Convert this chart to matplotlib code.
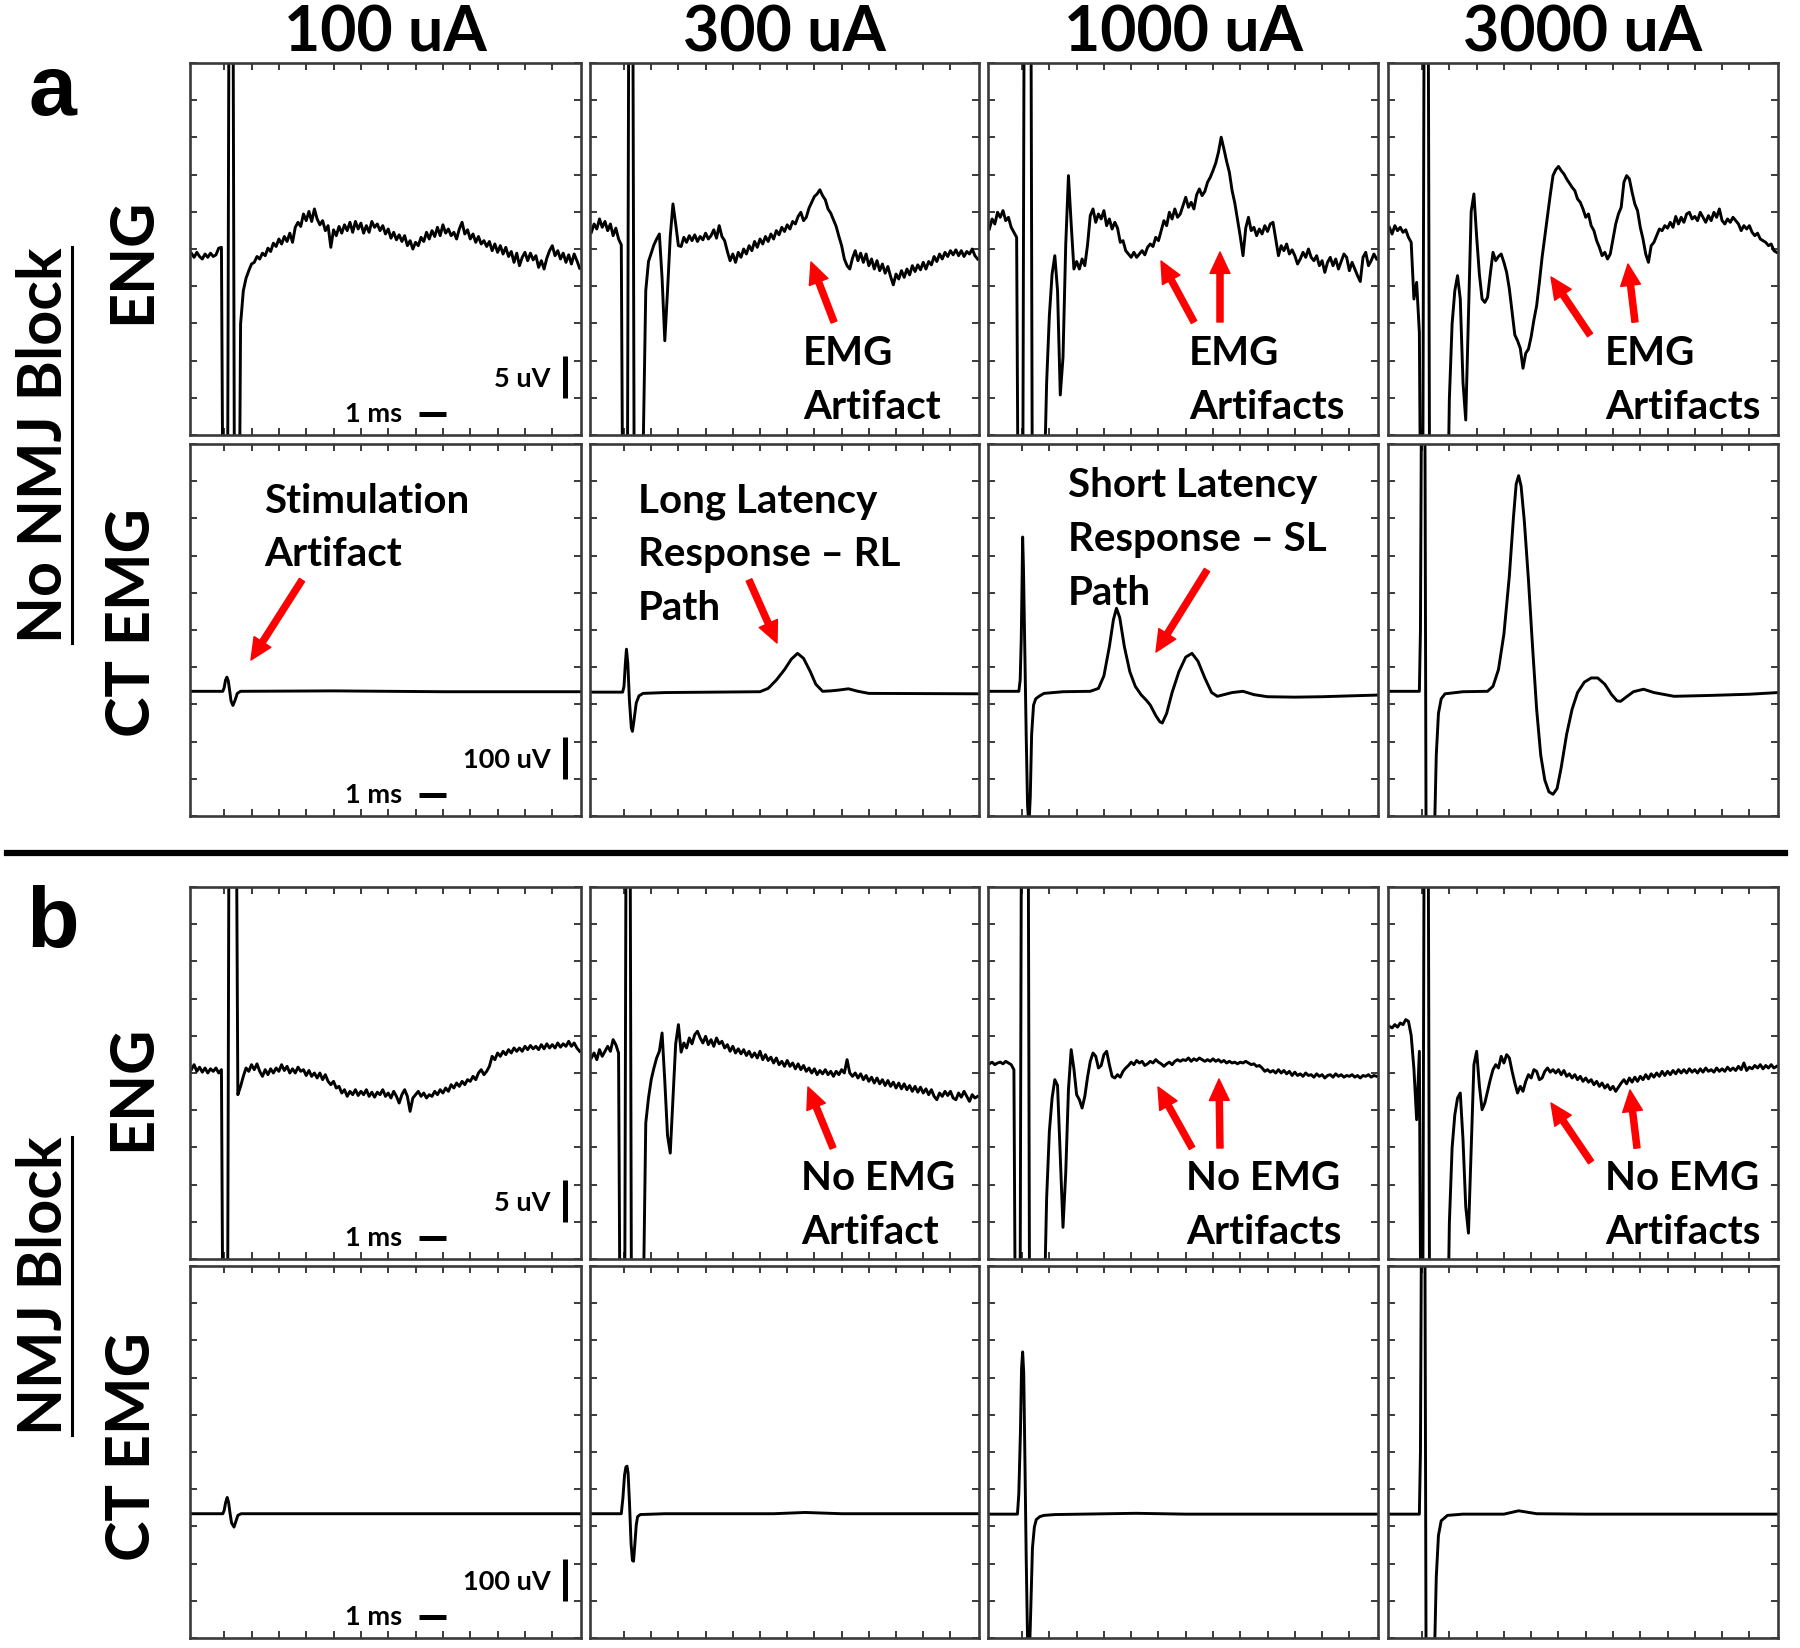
import numpy as np
import matplotlib
matplotlib.use('Agg')
import matplotlib.pyplot as plt
from matplotlib.patches import FancyArrowPatch
from matplotlib.lines import Line2D

plt.rcParams['font.family'] = ['Lato', 'DejaVu Sans']

# ---------------- data ----------------
currents = ['100 uA', '300 uA', '1000 uA', '3000 uA']
conditions = ['No NMJ Block', 'NMJ Block']

# ENG traces (uV), sampled every 0.1 ms starting at t = -1.2 ms
ENG_T0, ENG_DT = -1.2, 0.1

a_eng_100 = [
    -0.5, -1.0, -0.4, -0.9, -1.2, -0.6, -1.0, -0.5, -0.9, -0.7,
    0.1, 0.2, -60, -60, 60, 60, -60, -60, -9, -5.0,
    -3.5, -2.6, -1.8, -1.6, -0.9, -1.2, -0.5, -0.8, 0.1, -0.3,
    0.7, 0.3, 1.2, 0.6, 1.5, 0.9, 1.9, 0.8, 2.6, 3.2,
    2.7, 4.2, 3.4, 4.5, 3.3, 4.8, 3.6, 2.9, 3.4, 2.2,
    2.8, 0.2, 2.3, 1.6, 2.7, 1.9, 2.9, 2.2, 3.2, 2.0,
    3.3, 2.4, 3.1, 1.9, 2.8, 2.0, 3.3, 2.6, 3.0, 2.2,
    2.8, 1.8, 2.4, 1.3, 2.0, 1.1, 1.7, 0.9, 1.6, 0.4,
    1.0, 0.0, 0.8, 0.4, 1.4, 0.9, 2.0, 1.2, 2.2, 1.5,
    2.6, 1.6, 2.9, 1.9, 2.4, 1.6, 2.0, 1.2, 2.4, 3.2,
    1.8, 2.3, 1.2, 1.8, 0.8, 1.5, 0.6, 1.0, 0.3, 0.9,
    -0.2, 0.6, -0.4, 0.4, -0.6, 0.2, -0.9, -0.3, -1.6, -0.5,
    -2.0, -1.0, -0.4, -1.4, -0.5, -1.3, -0.8, -2.2, -1.4, -2.4,
    -1.1, -0.2, 0.4, -0.8, -0.2, -1.2, -0.5, -1.6, -0.7, -1.8,
    -0.6, -1.4, -2.3]

a_eng_300 = [
    2.0, 3.0, 2.4, 3.6, 2.6, 3.3, 2.2, 3.0, 1.6, 2.5,
    1.2, 0.5, -60, -60, 60, 60, -60, -60, -60, -25,
    -5.0, -1.5, -0.5, 0.5, 1.2, 1.8, -3.5, -11.0, -5.0, 1.5,
    5.4, 3.0, 0.4, 0.3, 1.4, 0.8, 1.6, 1.0, 1.7, 0.9,
    1.5, 1.1, 1.9, 1.2, 1.6, 2.3, 1.3, 2.8, 1.5, 1.0,
    -0.3, -1.4, -0.6, -1.6, -0.4, -1.0, 0.0, -0.6, 0.4, -0.2,
    0.9, 0.2, 1.2, 0.6, 1.5, 0.9, 1.8, 1.2, 2.2, 1.7,
    2.6, 2.1, 2.9, 2.4, 3.3, 3.0, 3.9, 4.4, 3.4, 3.8,
    4.9, 5.6, 6.3, 6.6, 7.1, 6.4, 5.9, 4.8, 4.3, 3.5,
    2.7, 1.5, 0.4, -1.2, -2.0, -2.4, -1.1, -0.2, -1.4, -0.5,
    -1.6, -0.6, -2.0, -1.2, -2.4, -1.4, -2.6, -1.8, -2.9, -2.1,
    -3.3, -4.3, -3.0, -3.6, -2.6, -3.4, -2.4, -3.1, -2.0, -2.7,
    -1.9, -2.5, -1.6, -2.4, -1.5, -1.9, -0.9, -1.5, -0.6, -1.2,
    -0.4, -0.9, -0.2, -0.7, -0.1, -0.8, -0.2, -0.9, -0.3, -0.6,
    0.0, -0.8, -1.2]

a_eng_1000 = [
    2.4, 3.6, 3.0, 4.4, 3.8, 4.6, 3.4, 3.8, 2.6, 2.0,
    1.4, -60, -60, 60, 60, 60, -60, -60, -60, -60,
    -30, -16, -8, -3, -0.8, -5, -17.5, -13, 0.5, 8.8,
    3.0, -2.4, -1.5, -2.4, -1.2, -2.0, 0.5, 4.0, 4.8, 3.2,
    4.2, 3.6, 4.6, 2.8, 3.6, 2.4, 3.2, 2.5, 0.8, 1.0,
    -0.2, -0.6, -1.0, -0.4, -1.0, -0.6, -0.2, -0.7, 0.2, 0.6,
    0.3, 1.4, 1.0, 2.2, 3.4, 2.8, 4.4, 3.6, 4.8, 3.8,
    4.2, 5.2, 6.2, 5.0, 5.6, 4.8, 6.5, 7.2, 6.4, 6.9,
    8.0, 8.6, 9.4, 10.3, 11.6, 13.4, 12.0, 10.5, 9.2, 7.0,
    5.5, 3.5, 1.5, -0.8, 2.5, 3.8, 2.2, 2.6, 1.6, 2.4,
    1.8, 2.8, 2.1, 3.0, 3.2, 1.2, -0.8, 0.4, -0.2, 0.6,
    -0.6, -0.1, -0.8, -1.8, -1.2, -0.4, -1.0, 0.0, -1.0, -1.4,
    -0.8, -2.0, -1.4, -2.8, -1.6, -1.0, -2.0, -1.2, -2.4, -1.5,
    -0.6, -1.0, -2.6, -1.6, -2.4, -3.2, -3.9, -1.0, -0.4, -2.0,
    -1.4, -0.6, -1.2]

a_eng_3000 = [
    2.6, 1.8, 2.8, 2.2, 2.6, 2.0, 2.3, 1.4, 0.8, -6,
    -4, -10, -60, 60, 60, -60, -60, -60, -60, -60,
    -60, -40, -18, -9, -5, -3.2, -6, -16, -20.5, -8,
    4.5, 6.6, 1.5, -3.0, -6.0, -6.4, -5.8, -3.0, -0.4, -1.4,
    -0.9, -0.6, -1.6, -2.8, -4.8, -7.5, -10.3, -11.0, -11.9, -14.3,
    -12.5, -12.0, -10.5, -8.5, -6.8, -4.0, -1.0, 1.5, 4.0, 6.5,
    8.8, 9.5, 9.9, 9.4, 9.0, 8.4, 7.9, 7.4, 7.0, 6.0,
    5.6, 4.8, 3.8, 4.2, 2.8, 2.2, 1.0, 0.2, -0.8, -0.4,
    -1.2, -0.6, 1.2, 3.0, 4.2, 5.0, 8.0, 8.8, 8.4, 6.8,
    5.4, 4.6, 2.6, 1.2, -0.6, -1.6, 0.4, 0.8, 1.6, 2.4,
    2.2, 2.8, 2.5, 3.2, 2.6, 3.9, 3.0, 3.8, 3.2, 4.2,
    4.4, 3.6, 3.9, 3.4, 4.4, 3.8, 3.2, 4.0, 3.4, 4.4,
    3.8, 4.8, 3.4, 3.0, 3.6, 3.2, 3.8, 3.4, 3.0, 2.2,
    2.8, 2.4, 2.8, 2.0, 1.6, 1.9, 1.2, 1.0, 0.8, 0.4,
    0.6, -0.2, -0.4]

b_eng_100 = [
    0.4, 1.0, 0.2, 0.7, 0.1, 0.6, 0.0, 0.5, 0.2, 0.6,
    0.0, 0.4, -60, -60, 60, 60, 60, -2.6, -1.6, -0.4,
    0.6, 0.2, 1.0, 0.4, 1.1, 0.2, -0.4, 0.4, -0.2, 0.5,
    0.0, 0.6, 0.2, 1.0, 0.3, 0.8, 0.0, 0.5, 0.0, 0.7,
    0.2, 0.4, -0.3, 0.3, -0.4, 0.0, -0.6, 0.0, -0.8, -0.2,
    -1.0, -1.4, -1.0, -1.8, -1.6, -2.4, -2.0, -2.8, -2.2, -2.6,
    -2.0, -2.7, -2.2, -2.6, -2.0, -2.8, -2.3, -2.9, -2.3, -2.6,
    -2.0, -2.8, -2.4, -3.0, -2.2, -2.8, -3.6, -2.6, -2.0, -2.8,
    -4.6, -3.0, -2.6, -2.2, -2.8, -2.4, -3.0, -2.6, -2.8, -2.2,
    -2.6, -2.0, -2.4, -1.8, -2.2, -1.4, -1.8, -1.2, -1.6, -1.0,
    -1.4, -0.8, -1.0, -0.4, -0.8, 0.0, 0.4, -0.2, 0.2, 0.8,
    2.0, 1.6, 2.4, 2.0, 2.6, 2.2, 2.8, 2.4, 3.0, 2.6,
    3.0, 2.6, 3.2, 2.8, 3.3, 2.9, 3.2, 2.8, 3.4, 2.9,
    3.5, 3.0, 3.4, 3.0, 3.6, 3.1, 3.5, 3.2, 3.8, 3.2,
    3.6, 3.0, 2.6]

b_eng_300 = [
    1.8, 2.4, 1.6, 2.8, 2.0, 2.6, 3.2, 2.6, 4.0, 3.4,
    2.4, -60, -60, 60, 60, -60, -60, -60, -60, -30,
    -6, -3, -0.8, 0.6, 1.8, 2.6, 4.8, -1, -7.5, -9.6,
    -3, 3.5, 5.8, 2.5, 3.6, 3.0, 4.2, 3.5, 4.6, 5.0,
    4.2, 3.6, 4.4, 3.4, 4.0, 3.2, 4.2, 3.5, 3.8, 3.0,
    3.4, 2.6, 3.2, 2.4, 2.9, 2.3, 2.8, 2.1, 2.6, 1.9,
    2.4, 1.8, 2.6, 1.6, 2.2, 1.5, 1.9, 1.2, 1.8, 1.0,
    1.4, 0.8, 1.5, 0.8, 1.2, 0.5, 1.1, 0.4, 0.9, 0.2,
    0.6, 0.0, 0.5, -0.2, 0.3, -0.1, 0.4, -0.2, 0.2, -0.4,
    0.2, -0.2, 0.4, 0.0, 1.6, 0.0, -0.4, 0.0, -0.6, -0.1,
    -0.8, -0.3, -1.0, -0.5, -1.2, -0.6, -1.3, -0.8, -1.5, -0.9,
    -1.6, -1.1, -1.8, -1.2, -1.9, -1.3, -2.0, -1.5, -2.2, -1.6,
    -2.3, -1.7, -2.4, -1.9, -2.6, -2.0, -2.8, -3.2, -2.4, -2.8,
    -2.2, -2.7, -2.2, -3.0, -3.2, -2.4, -2.9, -2.2, -2.8, -3.4,
    -2.6, -3.0, -2.8]

b_eng_1000 = [
    1.1, 1.3, 1.0, 1.2, 1.3, 1.1, 1.4, 1.2, 1.0, 0.4,
    -60, -60, 60, 60, 60, -60, -60, -60, -60, -60,
    -30, -15, -7, -3, -0.8, -1.5, -10, -18.5, -12, -2,
    2.8, 0.5, -2.6, -3.2, -4.2, -2.8, -0.5, 1.4, 2.4, 2.0,
    0.6, 0.9, 2.2, 2.6, 1.0, -0.4, -0.6, -0.2, -0.5, 0.2,
    0.6, 0.9, 1.3, 1.0, 1.5, 1.2, 1.4, 0.9, 1.1, 1.4,
    1.2, 1.6, 1.3, 1.1, 0.8, 1.1, 1.3, 1.0, 1.4, 1.6,
    1.4, 1.6, 1.5, 1.8, 1.4, 1.7, 1.5, 1.8, 1.6, 1.4,
    1.6, 1.4, 1.7, 1.4, 1.6, 1.3, 1.5, 1.2, 1.4, 1.2,
    1.3, 1.1, 1.3, 1.2, 1.4, 1.2, 1.0, 1.1, 0.8, 0.9,
    0.6, 0.2, 0.4, 0.1, 0.3, 0.0, 0.4, 0.0, 0.3, -0.1,
    0.2, -0.3, 0.1, -0.3, -0.1, -0.4, 0.0, -0.3, -0.2, -0.5,
    -0.1, -0.4, -0.2, -0.6, -0.3, -0.2, -0.5, -0.1, -0.4, -0.2,
    -0.5, -0.3, -0.4, -0.2, -0.5, -0.3, -0.6, -0.3, -0.4, -0.2,
    -0.5, -0.3, -0.4]

b_eng_3000 = [
    5.6, 5.4, 5.8, 5.5, 6.0, 5.8, 6.4, 6.2, 4.5, 0.5,
    -5.6, 2.6, -60, 60, 60, -60, -60, -60, -60, -60,
    -60, -40, -18, -9, -5, -3.0, -2.4, -8, -16, -19.2,
    -9, 1.0, 2.6, -1.5, -4.4, -3.6, -2.2, -0.8, 0.4, 1.0,
    0.6, 2.0, 1.2, 2.2, 1.8, 0.2, -1.2, -2.4, -1.6, -2.2,
    -1.0, -0.2, -0.6, 0.4, 0.2, -0.8, -0.6, 0.2, 0.6, 0.1,
    0.4, 0.0, 0.4, -0.2, 0.3, -0.4, -0.1, -0.6, -0.2, -0.8,
    -0.4, -1.0, -0.6, -1.1, -0.8, -1.4, -1.0, -1.6, -1.2, -1.8,
    -1.4, -2.0, -1.6, -2.2, -1.7, -1.2, -0.8, -1.3, -0.6, -1.1,
    -0.5, -1.0, -0.4, -0.8, -0.2, -0.7, -0.1, -0.5, 0.0, -0.4,
    0.2, -0.3, 0.2, -0.2, 0.3, -0.1, 0.4, 0.0, 0.4, 0.0,
    0.5, 0.1, 0.4, 0.0, 0.5, 0.1, 0.6, 0.2, 0.4, 0.1,
    0.6, 0.2, 0.5, 0.2, 0.7, 0.3, 0.6, 0.3, 0.8, 0.4,
    1.2, 0.3, 0.7, 0.5, 0.9, 0.6, 1.0, 0.5, 0.9, 0.6,
    1.0, 0.6, 0.8]

# CT EMG traces (uV): (time ms, value uV) pairs
a_emg_100_t = [-1.25, -0.05, 0.0, 0.05, 0.1, 0.15, 0.2, 0.25, 0.32, 0.4, 0.48, 0.6, 4.0, 8.0, 13.05]
a_emg_100_v = [-147, -147, -138, -120, -113, -122, -145, -170, -181, -168, -152, -147, -146, -148, -148]

a_emg_300_t = [-1.25, -0.05, 0.0, 0.05, 0.09, 0.14, 0.2, 0.27, 0.31, 0.36, 0.45, 0.55, 0.7, 1.5,
               5.0, 5.3, 5.6, 5.9, 6.15, 6.38, 6.6, 6.85, 7.05, 7.3, 7.6, 7.9, 8.25, 8.6, 9.0, 13.05]
a_emg_300_v = [-149, -149, -135, -80, -46, -80, -170, -235, -243, -220, -175, -158, -152, -150,
               -148, -140, -120, -95, -70, -56, -68, -100, -130, -147, -146, -144, -141, -147, -152, -153]

a_emg_1000_t = [-1.25, -0.12, -0.07, -0.03, 0.0, 0.02, 0.05, 0.1, 0.15, 0.2, 0.25, 0.3, 0.35, 0.42, 0.5,
                0.62, 0.8, 1.5, 2.5, 2.8, 3.0, 3.2, 3.35, 3.46, 3.58, 3.75, 3.95, 4.15, 4.36, 4.55,
                4.7, 4.9, 5.05, 5.14, 5.3, 5.5, 5.75, 6.0, 6.23, 6.45, 6.7, 6.95, 7.16, 7.4, 7.7,
                8.1, 8.5, 9.0, 10.0, 11.0, 12.0, 13.05]
a_emg_1000_v = [-147, -147, -120, -20, 120, 223, 150, -50, -250, -420, -470, -400, -250, -180, -165,
                -159, -152, -148, -147, -140, -110, -40, 25, 52, 30, -40, -100, -135, -155, -168,
                -180, -205, -220, -223, -200, -150, -100, -65, -56, -75, -115, -150, -159, -155, -150,
                -147, -155, -160, -161, -160, -158, -156]

a_emg_3000_t = [-1.25, -0.1, -0.06, -0.02, 0.1, 0.15, 0.3, 0.45, 0.52, 0.6, 0.7, 0.84, 1.5, 2.4, 2.6,
                2.8, 3.0, 3.2, 3.35, 3.45, 3.54, 3.63, 3.75, 3.9, 4.05, 4.2, 4.35, 4.5, 4.65, 4.8,
                4.95, 5.1, 5.3, 5.5, 5.7, 5.95, 6.2, 6.44, 6.7, 6.95, 7.15, 7.28, 7.5, 7.75, 8.12,
                8.5, 9.24, 10.5, 12.0, 13.05]
a_emg_3000_v = [-147, -147, 0, 600, 600, -600, -600, -500, -300, -200, -165, -153, -148, -147, -135,
                -95, -10, 130, 270, 350, 370, 345, 260, 120, -40, -190, -300, -360, -388, -394,
                -380, -330, -250, -190, -150, -125, -115, -115, -130, -155, -170, -171, -160, -148, -142,
                -150, -159, -157, -154, -150]

b_emg_100_t = [-1.25, -0.05, 0.0, 0.05, 0.11, 0.16, 0.21, 0.27, 0.36, 0.43, 0.5, 0.62, 5.0, 13.05]
b_emg_100_v = [-148, -148, -140, -122, -109, -120, -145, -170, -180, -166, -152, -148, -148, -148]

b_emg_300_t = [-1.25, -0.1, -0.04, 0.02, 0.07, 0.11, 0.15, 0.2, 0.26, 0.31, 0.35, 0.4, 0.45, 0.5,
               0.6, 1.5, 5.5, 6.66, 8.0, 13.05]
b_emg_300_v = [-148, -148, -110, -55, -36, -34, -50, -120, -220, -260, -262, -220, -175, -155,
               -150, -148, -148, -145, -148, -148]

b_emg_1000_t = [-1.25, -0.17, -0.12, -0.06, -0.02, 0.02, 0.06, 0.1, 0.15, 0.2, 0.25, 0.3, 0.38,
                0.45, 0.52, 0.65, 0.8, 1.2, 4.17, 6.0, 13.05]
b_emg_1000_v = [-149, -149, -100, 50, 200, 240, 190, 0, -250, -450, -520, -420, -230,
                -180, -162, -155, -152, -150, -147, -149, -149]

b_emg_3000_t = [-1.25, -0.1, -0.06, -0.02, 0.1, 0.15, 0.3, 0.45, 0.52, 0.6, 0.7, 0.93, 1.5, 3.0,
                3.54, 4.2, 6.0, 13.05]
b_emg_3000_v = [-149, -149, 0, 600, 600, -600, -600, -500, -300, -200, -165, -152, -149, -149,
                -141, -148, -149, -149]

ENG_ROWS = [[a_eng_100, a_eng_300, a_eng_1000, a_eng_3000],
            [b_eng_100, b_eng_300, b_eng_1000, b_eng_3000]]
EMG_ROWS = [[(a_emg_100_t, a_emg_100_v), (a_emg_300_t, a_emg_300_v),
             (a_emg_1000_t, a_emg_1000_v), (a_emg_3000_t, a_emg_3000_v)],
            [(b_emg_100_t, b_emg_100_v), (b_emg_300_t, b_emg_300_v),
             (b_emg_1000_t, b_emg_1000_v), (b_emg_3000_t, b_emg_3000_v)]]

SCALE_ENG_UV = 5
SCALE_EMG_UV = 100
SCALE_MS = 1

# ---------------- layout ----------------
W, H = 1800, 1648
fig = plt.figure(figsize=(W / 100, H / 100), dpi=100)


def fx(px):
    return px / W


def fy(py):
    return 1 - py / H


COLS = [(190, 581), (590, 979), (988, 1378), (1388, 1778)]
ROWS = [(63, 435), (444, 816), (887, 1259), (1266, 1638)]
XLIM = (-1.25, 13.05)
ENG_LIM = 22.3
EMG_LIM = 446
FRAME = '#3a3a3a'
TRACE_LW = 2.1


def make_ax(ci, ri, lim):
    x0, x1 = COLS[ci]
    y0, y1 = ROWS[ri]
    ax = fig.add_axes([fx(x0), fy(y1), (x1 - x0) / W, (y1 - y0) / H])
    ax.set_xlim(*XLIM)
    ax.set_ylim(-lim, lim)
    ax.set_xticks(np.arange(0, 13))
    ax.set_yticks(np.linspace(-lim, lim, 11))
    ax.tick_params(direction='in', top=True, right=True, bottom=True, left=True,
                   labelbottom=False, labelleft=False, length=5, width=1.4, colors=FRAME)
    for s in ax.spines.values():
        s.set_linewidth(1.9)
        s.set_color(FRAME)
    return ax


def yv(frac, lim):
    return -lim + frac * 2 * lim


def scale_bars(ax, lim, amp, label):
    xb = 12.46
    yb = yv(0.10, lim)
    ax.plot([xb, xb], [yb, yb + amp], color='black', lw=3.6, solid_capstyle='butt')
    ax.text(11.95, yv(0.128, lim), label, ha='right', va='baseline', fontsize=19.5, fontweight='bold')
    yh = yv(0.056, lim)
    ax.plot([7.13, 7.13 + SCALE_MS], [yh, yh], color='black', lw=3.6, solid_capstyle='butt')
    ax.text(6.5, yv(0.036, lim), '1 ms', ha='right', va='baseline', fontsize=19.5, fontweight='bold')


for cond in range(2):
    for ci in range(4):
        # ENG
        ax = make_ax(ci, cond * 2, ENG_LIM)
        v = np.array(ENG_ROWS[cond][ci], dtype=float)
        t = ENG_T0 + ENG_DT * np.arange(len(v))
        ax.plot(t, v, color='black', lw=TRACE_LW, solid_joinstyle='round')
        if ci == 0:
            scale_bars(ax, ENG_LIM, SCALE_ENG_UV, '5 uV')
        # EMG
        ax = make_ax(ci, cond * 2 + 1, EMG_LIM)
        tt, vv = EMG_ROWS[cond][ci]
        ax.plot(tt, vv, color='black', lw=TRACE_LW, solid_joinstyle='round')
        if ci == 0:
            scale_bars(ax, EMG_LIM, SCALE_EMG_UV, '100 uV')

# column titles
for ci, cur in enumerate(currents):
    cx = (COLS[ci][0] + COLS[ci][1]) / 2
    fig.text(fx(cx), fy(52), cur, ha='center', va='baseline', fontsize=45, fontweight='bold')

# panel letters
fig.text(fx(52), fy(115), 'a', ha='center', va='baseline', fontsize=62, fontweight='bold',
         family=['Liberation Sans', 'DejaVu Sans'])
fig.text(fx(53), fy(947), 'b', ha='center', va='baseline', fontsize=62, fontweight='bold',
         family=['Liberation Sans', 'DejaVu Sans'])

# row labels
row_label_y = [261, 623, 1088, 1447]
row_label_txt = ['ENG', 'CT EMG', 'ENG', 'CT EMG']
for y, s in zip(row_label_y, row_label_txt):
    fig.text(fx(132), fy(y), s, rotation=90, ha='center', va='center', fontsize=44, fontweight='bold')

cond_y = [(445, 247, 643), (1286, 1137, 1435)]
for (yc, ya, yb), s in zip(cond_y, conditions):
    fig.text(fx(44), fy(yc), s, rotation=90, ha='center', va='center', fontsize=44, fontweight='bold')
    fig.add_artist(Line2D([fx(72), fx(72)], [fy(ya), fy(yb)], lw=2.2, color='black'))

# separator
fig.add_artist(Line2D([fx(7), fx(1785)], [fy(853), fy(853)], lw=4.5, color='black'))

# annotations
notes = [
    (803, [365, 419], ['EMG', 'Artifact']),
    (1189, [365, 419], ['EMG', 'Artifacts']),
    (1605, [365, 419], ['EMG', 'Artifacts']),
    (264, [513, 566], ['Stimulation', 'Artifact']),
    (638, [513, 566, 620], ['Long Latency', 'Response \u2013 RL', 'Path']),
    (1068, [497, 551, 605], ['Short Latency', 'Response \u2013 SL', 'Path']),
    (801, [1190, 1244], ['No EMG', 'Artifact']),
    (1186, [1190, 1244], ['No EMG', 'Artifacts']),
    (1605, [1190, 1244], ['No EMG', 'Artifacts']),
]
for x, ys, lines in notes:
    for y, s in zip(ys, lines):
        fig.text(fx(x), fy(y), s, ha='left', va='baseline', fontsize=29, fontweight='bold')

arrows = [
    ((834, 322), (811, 262)), ((1194, 322), (1161, 261)), ((1220, 322), (1220, 252)),
    ((1590, 335), (1551, 277)), ((1635, 322), (1628, 264)),
    ((302, 580), (251, 660)), ((749, 580), (777, 643)), ((1207, 570), (1156, 652)),
    ((833, 1148), (808, 1087)), ((1192, 1148), (1158, 1087)), ((1220, 1148), (1219, 1079)),
    ((1591, 1162), (1551, 1103)), ((1637, 1148), (1630, 1090)),
]
for (xa, ya), (xb, yb) in arrows:
    fig.add_artist(FancyArrowPatch((fx(xa), fy(ya)), (fx(xb), fy(yb)), transform=fig.transFigure,
                                   arrowstyle='simple,head_length=1.4,head_width=1.3,tail_width=0.4',
                                   mutation_scale=11, color='#ff0000', shrinkA=0, shrinkB=0))

fig.savefig('out.png', dpi=100, facecolor='white')
